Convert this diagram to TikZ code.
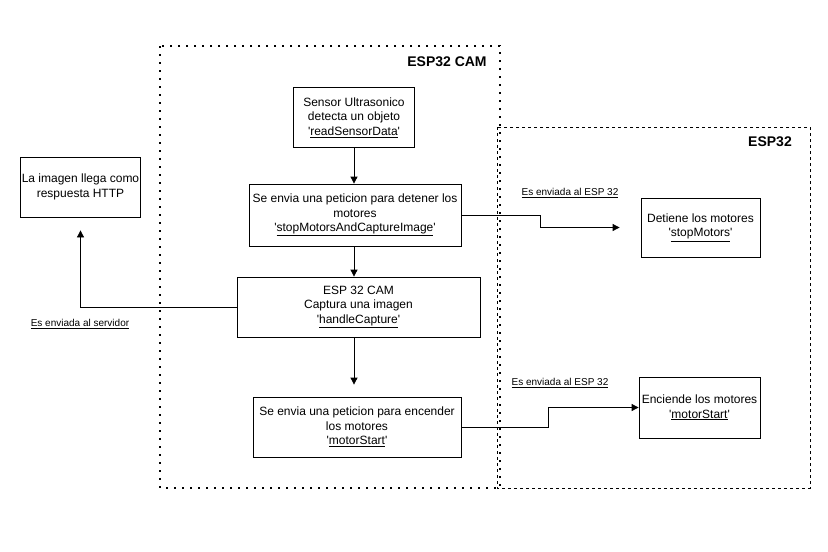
\documentclass[tikz,border=0pt]{standalone}
\usepackage{fontspec}
\setmainfont{Liberation Sans}
\usepackage{tikz}
\usetikzlibrary{positioning,calc,arrows.meta}
\newcommand{\fname}[1]{\textquotesingle\underline{#1}\textquotesingle}

\begin{document}
\begin{tikzpicture}[x=1pt,y=-1pt,
  stagebox/.style={draw,black,thick,rectangle,align=center,inner sep=1pt,
    font=\fontsize{12}{14.5}\selectfont},
  flow/.style={black,thick,-{Triangle[length=7pt,width=7pt]}},
  sendlabel/.style={font=\fontsize{10}{12}\selectfont},
  zonetitle/.style={font=\fontsize{14}{16}\selectfont\bfseries}]
\useasboundingbox (0,0) rectangle (828,552);

% zones
\draw[black,line width=0.9pt,dash pattern=on 3pt off 3pt] (497,127) rectangle (810,488);
\draw[black,line width=1.6pt,dash pattern=on 1.6pt off 6.4pt] (160,46) rectangle (500,488);
\node[zonetitle] (camtitle) at (447,62) {ESP32 CAM};
\node[zonetitle] (esptitle) at (770,142) {ESP32};

% ESP32 CAM steps
\node[stagebox,minimum width=121pt,minimum height=60pt] (sensor) at (354,117.5)
  {Sensor Ultrasonico\\detecta un objeto\\\fname{readSensorData}};
\node[stagebox,minimum width=212pt,minimum height=62pt] (stop) at (355,215)
  {Se envia una peticion para detener los\\motores\\\fname{stopMotorsAndCaptureImage}};
\node[stagebox,minimum width=243pt,minimum height=60pt] (capture) at (358.5,307)
  {ESP 32 CAM\\Captura una imagen\\\fname{handleCapture}};
\node[stagebox,minimum width=208pt,minimum height=60pt] (start) at (357,427)
  {Se envia una peticion para encender\\los motores\\\fname{motorStart}};

% server
\node[stagebox,minimum width=119pt,minimum height=60pt] (image) at (80.5,187)
  {La imagen llega como\\respuesta HTTP};

% ESP32 steps
\node[stagebox,minimum width=119pt,minimum height=59pt] (halt) at (700.5,227.5)
  {Detiene los motores\\\fname{stopMotors}};
\node[stagebox,minimum width=121pt,minimum height=61pt] (run) at (699.5,407.5)
  {Enciende los motores\\\fname{motorStart}};

\coordinate (haltbend) at (540,215);
\coordinate (runbend) at (548,427);

\draw[flow] (sensor.south) -- (sensor.south |- stop.north);
\draw[flow] (sensor.south |- stop.south) -- (sensor.south |- capture.north);
\draw[flow,shorten >=12pt] (sensor.south |- capture.south) -- (sensor.south |- start.north);
\draw[flow,shorten >=13pt] (capture.west) -| (image.south);
\draw[flow,shorten >=21pt] (stop.east) -- (haltbend) |- (halt.west);
\draw[flow] (start.east) -- (runbend) |- (run.west);

\node[sendlabel] (toserver) at (80,324) {\underline{Es enviada al servidor}};
\node[sendlabel] (tohalt) at (570,193) {\underline{Es enviada al ESP 32}};
\node[sendlabel] (torun) at (560,383) {\underline{Es enviada al ESP 32}};
\end{tikzpicture}
\end{document}
